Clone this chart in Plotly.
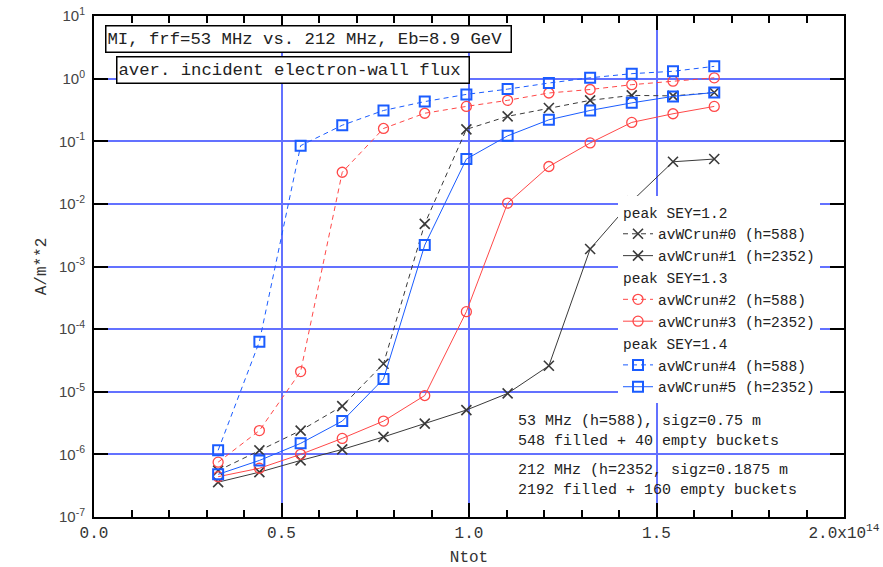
import plotly.graph_objects as go

# Total beam intensity (protons in the ring)
ntot = [0.331e14, 0.441e14, 0.551e14, 0.662e14, 0.772e14, 0.882e14, 0.993e14,
        1.103e14, 1.213e14, 1.323e14, 1.434e14, 1.544e14, 1.654e14]

# Average incident electron-wall flux [A/m**2]
run0 = [5.5e-7, 1.16e-6, 2.4e-6, 5.9e-6, 2.8e-5, 4.8e-3, 0.155, 0.25, 0.34, 0.45, 0.54, 0.53, 0.60]
run1 = [3.6e-7, 5.2e-7, 8.0e-7, 1.2e-6, 1.9e-6, 3.1e-6, 5.1e-6, 9.4e-6, 2.6e-5, 1.9e-3, 1.1e-2, 4.7e-2, 5.2e-2]
run2 = [7.5e-7, 2.4e-6, 2.1e-5, 3.2e-2, 0.16, 0.28, 0.36, 0.45, 0.59, 0.67, 0.80, 0.91, 1.03]
run3 = [4.4e-7, 6.0e-7, 1.0e-6, 1.8e-6, 3.4e-6, 8.7e-6, 1.9e-4, 1.03e-2, 3.95e-2, 9.4e-2, 0.20, 0.275, 0.36]
run4 = [1.16e-6, 6.3e-5, 8.5e-2, 0.18, 0.31, 0.43, 0.56, 0.68, 0.85, 1.03, 1.2, 1.31, 1.57]
run5 = [4.8e-7, 8.0e-7, 1.5e-6, 3.4e-6, 1.6e-5, 2.2e-3, 5.2e-2, 0.122, 0.22, 0.31, 0.41, 0.52, 0.60]

series_names = ["avWCrun#0 (h=588)", "avWCrun#1 (h=2352)",
                "avWCrun#2 (h=588)", "avWCrun#3 (h=2352)",
                "avWCrun#4 (h=588)", "avWCrun#5 (h=2352)"]
group_titles = ["peak SEY=1.2", "peak SEY=1.3", "peak SEY=1.4"]

x_tickvals = [0, 0.5e14, 1.0e14, 1.5e14, 2.0e14]
x_ticktext = ["0.0", "0.5", "1.0", "1.5", "2.0x10<sup>14</sup>"]
y_tickvals = [1e1, 1e0, 1e-1, 1e-2, 1e-3, 1e-4, 1e-5, 1e-6, 1e-7]
y_ticktext = ["10<sup>1</sup>", "10<sup>0</sup>", "10<sup>-1</sup>", "10<sup>-2</sup>",
              "10<sup>-3</sup>", "10<sup>-4</sup>", "10<sup>-5</sup>", "10<sup>-6</sup>",
              "10<sup>-7</sup>"]

title_lines = ["MI, frf=53 MHz vs. 212 MHz, Eb=8.9 GeV", "aver. incident electron-wall flux"]
note_blocks = ["53 MHz (h=588), sigz=0.75 m<br>548 filled + 40 empty buckets",
               "212 MHz (h=2352, sigz=0.1875 m<br>2192 filled + 160 empty buckets"]

MONO = "Liberation Mono"
BLACK = "#3a3a3a"
RED = "#ff4848"
BLUE = "#1a5cff"
GRID = "#6371ff"

W, H = 883, 567
ML, MR, MT, MB = 94, 39, 16, 50
PW, PH = W - ML - MR, H - MT - MB


def px_x(p):
    return (p - ML) / PW


def px_y(p):
    return (H - MB - p) / PH


styles = [
    dict(color=BLACK, dash="5px,4px", symbol="x-thin", size=10, lw=1.6, grp=0),
    dict(color=BLACK, dash="solid", symbol="x-thin", size=10, lw=1.6, grp=0),
    dict(color=RED, dash="5px,4px", symbol="circle-open", size=10, lw=1.3, grp=1),
    dict(color=RED, dash="solid", symbol="circle-open", size=10, lw=1.3, grp=1),
    dict(color=BLUE, dash="5px,4px", symbol="square-open", size=10, lw=2, grp=2),
    dict(color=BLUE, dash="solid", symbol="square-open", size=10, lw=2, grp=2),
]
series = [run0, run1, run2, run3, run4, run5]

fig = go.Figure()
for i, (vals, st, name) in enumerate(zip(series, styles, series_names)):
    g = st["grp"]
    fig.add_trace(go.Scatter(
        x=ntot, y=vals, name=name, mode="lines+markers",
        line=dict(color=st["color"], width=1, dash=st["dash"]),
        marker=dict(symbol=st["symbol"], size=st["size"], color=st["color"],
                    line=dict(color=st["color"], width=st["lw"])),
        legendgroup=f"g{g}",
        legendgrouptitle=dict(text=group_titles[g],
                              font=dict(family=MONO, size=14.5, color="#222")),
    ))

axis_common = dict(showline=True, linecolor="black", linewidth=2, mirror="allticks",
                   ticks="inside", ticklen=14, tickwidth=1.5, tickcolor="black",
                   showgrid=True, gridcolor=GRID, gridwidth=1.5, zeroline=False,
                   automargin=False)

fig.update_xaxes(range=[0, 2.0e14], tickmode="array", tickvals=x_tickvals, ticktext=x_ticktext,
                 tickfont=dict(family=MONO, size=16, color="#333"),
                 minor=dict(ticks="inside", ticklen=7, tickwidth=1.5, tickcolor="black",
                            dtick=0.1e14, showgrid=False),
                 title=dict(text="Ntot", font=dict(family=MONO, size=16, color="#333"), standoff=16),
                 **axis_common)
fig.update_yaxes(type="log", range=[-7, 1], tickmode="array", tickvals=y_tickvals,
                 ticktext=y_ticktext, tickfont=dict(family="Liberation Sans", size=15, color="#444"),
                 ticklabelstandoff=4,
                 title=dict(text="A/m**2", font=dict(family=MONO, size=16, color="#333"), standoff=8),
                 **axis_common)

# opaque regions behind the title boxes and the beam notes
fig.add_shape(type="rect", xref="paper", yref="paper", layer="between",
              x0=px_x(ML + 2), x1=px_x(473), y0=px_y(88), y1=px_y(MT + 2),
              fillcolor="white", line_width=0)
fig.add_shape(type="rect", xref="paper", yref="paper", layer="between",
              x0=px_x(473), x1=px_x(516), y0=px_y(56), y1=px_y(MT + 2),
              fillcolor="white", line_width=0)
fig.add_shape(type="rect", xref="paper", yref="paper", layer="between",
              x0=px_x(515), x1=px_x(811), y0=px_y(497), y1=px_y(412),
              fillcolor="white", line_width=0)

# boxed header labels
box_specs = [(105, 25, 407), (116, 56, 354)]
for text, (bx, by, bw) in zip(title_lines, box_specs):
    fig.add_annotation(text=text, xref="paper", yref="paper", x=px_x(bx), y=px_y(by),
                       xanchor="left", yanchor="top", align="left", showarrow=False,
                       width=bw - 5, height=23, borderpad=1, borderwidth=1.5,
                       bordercolor="black", bgcolor="white",
                       font=dict(family=MONO, size=17.3, color="#222"))

# beam configuration notes
for text, ty in zip(note_blocks, [411, 460]):
    fig.add_annotation(text=text, xref="paper", yref="paper", x=px_x(516), y=px_y(ty),
                       xanchor="left", yanchor="top", align="left", showarrow=False,
                       font=dict(family=MONO, size=15, color="#222"))

fig.update_layout(
    width=W, height=H, margin=dict(l=ML, r=MR, t=MT, b=MB),
    paper_bgcolor="white", plot_bgcolor="white",
    legend=dict(x=px_x(618), y=px_y(196), xanchor="left", yanchor="top",
                bgcolor="white", borderwidth=0, tracegroupgap=0,
                font=dict(family=MONO, size=14.5, color="#222"), itemwidth=30),
)

fig.write_html("out.html")
